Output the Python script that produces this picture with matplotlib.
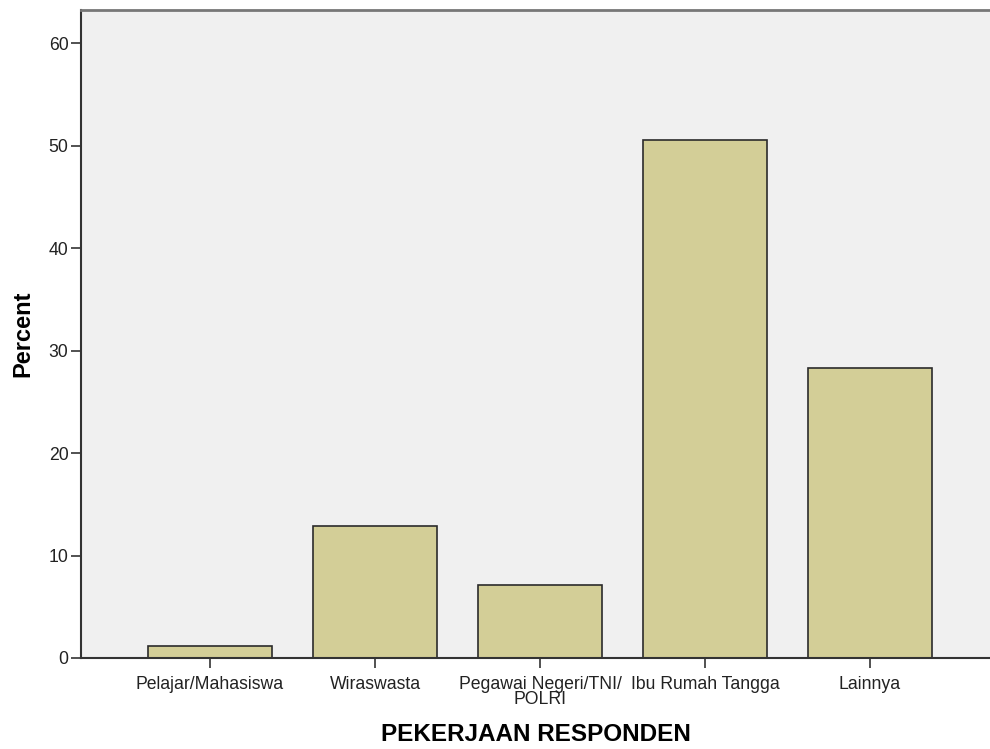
import matplotlib
matplotlib.use("Agg")
import matplotlib.pyplot as plt
import numpy as np

categories = ["Pelajar/Mahasiswa", "Wiraswasta", "Pegawai Negeri/TNI/\nPOLRI",
              "Ibu Rumah Tangga", "Lainnya"]
percent = [1.2, 12.9, 7.1, 50.6, 28.3]
yticks = [0, 10, 20, 30, 40, 50, 60]

plt.rcParams['font.family'] = ['Liberation Sans', 'DejaVu Sans']

fig = plt.figure(figsize=(9.9, 7.49), dpi=100)
ax = fig.add_axes([0.0818, 0.1215, 0.9182, 0.8645])
ax.set_facecolor("#f0f0f0")

x = np.arange(len(categories))
ax.bar(x, percent, width=0.75, color="#d3ce97", edgecolor="#2b2b2b", linewidth=1.2, zorder=2)

ax.set_xlim(-0.782, 4.727)
ax.set_ylim(0, 63.2)
ax.set_xticks(x)
ax.set_xticklabels(categories, fontsize=12.7, color="#222222", linespacing=0.85)
ax.set_yticks(yticks)
ax.set_yticklabels([str(v) for v in yticks], fontsize=12.7, color="#222222")
ax.tick_params(axis="both", direction="out", length=7, width=1.2, color="#333333")
ax.tick_params(axis="x", pad=6)
ax.tick_params(axis="y", pad=2)

for side in ["left", "bottom"]:
    ax.spines[side].set_color("#333333")
    ax.spines[side].set_linewidth(1.5)
ax.spines["top"].set_color("#777777")
ax.spines["top"].set_linewidth(2)
ax.spines["right"].set_visible(False)

ax.set_xlabel("PEKERJAAN RESPONDEN", fontsize=17.5, fontweight="bold", labelpad=11)
ax.set_ylabel("Percent", fontsize=17, fontweight="bold", labelpad=10)

fig.savefig("out.png", dpi=100)
